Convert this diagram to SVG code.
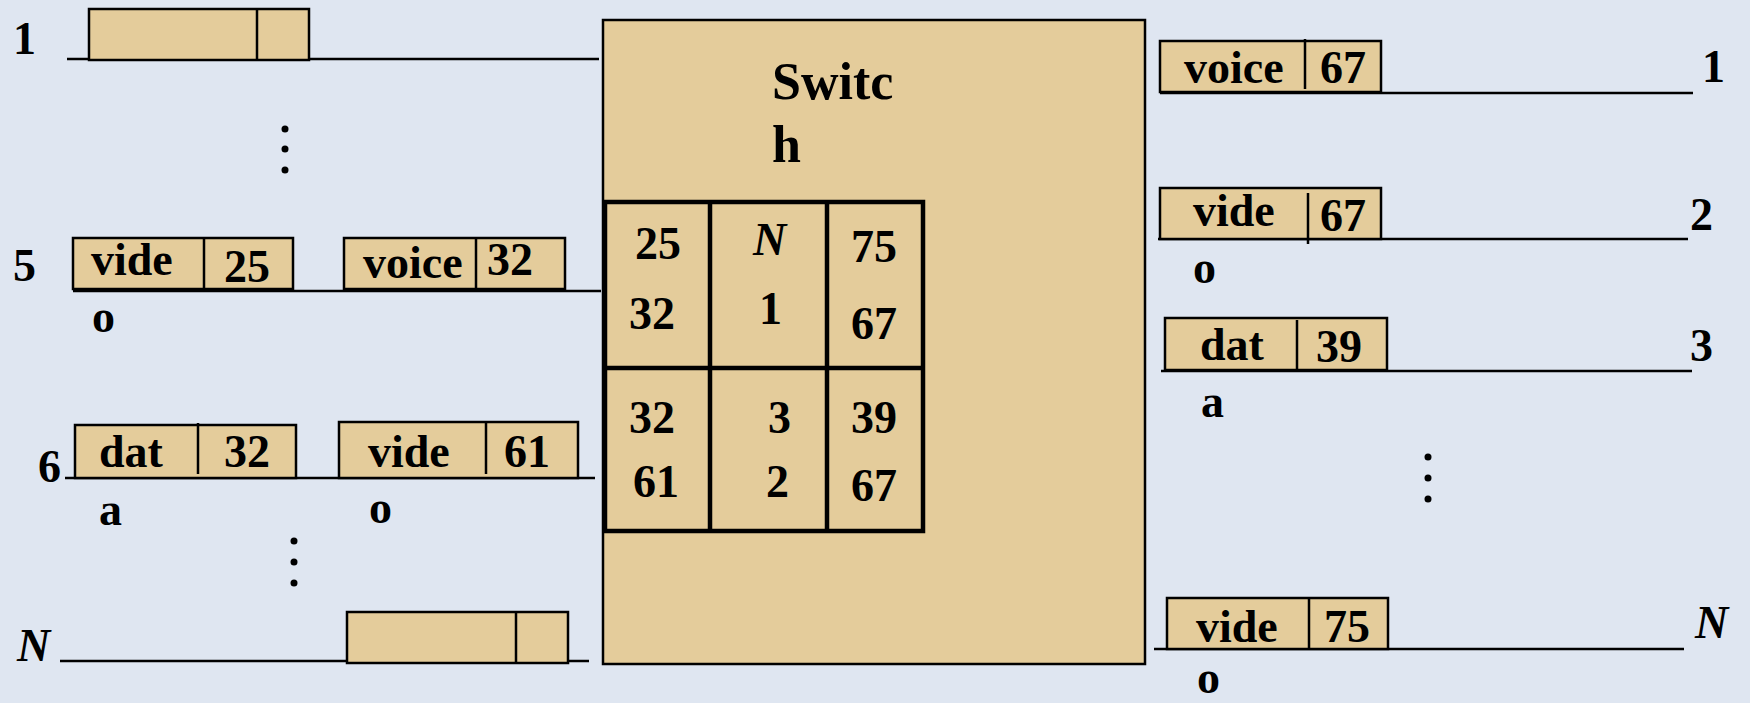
<svg xmlns="http://www.w3.org/2000/svg" width="1750" height="703" viewBox="0 0 1750 703">
<style>
.bg{fill:#dfe6f1}
.pkt{fill:#e4cc9b;stroke:#000;stroke-width:2.5}
.div{stroke:#000;stroke-width:2.5}
.ln{stroke:#000;stroke-width:2.5;fill:none}
.t{font-family:"Liberation Serif","Times New Roman",serif;font-weight:bold;font-size:46px;fill:#000}
.big{font-size:52px}
.it{font-style:italic}
.dot{fill:#000}
.sw{fill:#e4cc9b;stroke:#000;stroke-width:2.5}
.grid{fill:none;stroke:#000;stroke-width:4.5}
</style>
<rect class="bg" x="0" y="0" width="1750" height="703"/>

<g id="connectors">
<line class="ln" x1="67" y1="59" x2="599" y2="59"/>
<line class="ln" x1="73" y1="291" x2="601" y2="291"/>
<line class="ln" x1="65" y1="478" x2="595" y2="478"/>
<line class="ln" x1="60" y1="661" x2="589" y2="661"/>
<line class="ln" x1="1160" y1="93" x2="1693" y2="93"/>
<line class="ln" x1="1158" y1="239" x2="1688" y2="239"/>
<line class="ln" x1="1161" y1="371" x2="1692" y2="371"/>
<line class="ln" x1="1154" y1="649" x2="1684" y2="649"/>
</g>

<g id="switch">
<rect class="sw" x="603" y="20" width="542" height="644"/>
<text class="t big" x="772" y="99">Switc</text>
<text class="t big" x="772" y="162">h</text>
<rect class="grid" x="605" y="202" width="318" height="329"/>
<line class="grid" x1="710" y1="202" x2="710" y2="531"/>
<line class="grid" x1="827" y1="202" x2="827" y2="531"/>
<line class="grid" x1="605" y1="368" x2="923" y2="368"/>
<text class="t" x="635" y="259">25</text>
<text class="t" x="629" y="329">32</text>
<text class="t it" x="753" y="255">N</text>
<text class="t" x="759" y="324">1</text>
<text class="t" x="851" y="262">75</text>
<text class="t" x="851" y="339">67</text>
<text class="t" x="629" y="433">32</text>
<text class="t" x="633" y="497">61</text>
<text class="t" x="768" y="433">3</text>
<text class="t" x="766" y="497">2</text>
<text class="t" x="851" y="433">39</text>
<text class="t" x="851" y="501">67</text>
</g>

<g id="in-labels">
<text class="t" x="13" y="54">1</text>
<text class="t" x="13" y="281">5</text>
<text class="t" x="92" y="332">o</text>
<text class="t" x="38" y="482">6</text>
<text class="t" x="99" y="525">a</text>
<text class="t" x="369" y="523">o</text>
<text class="t it" x="17" y="661">N</text>
</g>

<g id="in-dots">
<circle class="dot" cx="285" cy="129" r="3.5"/>
<circle class="dot" cx="285" cy="149" r="3.5"/>
<circle class="dot" cx="285" cy="170" r="3.5"/>
<circle class="dot" cx="294" cy="541" r="3.5"/>
<circle class="dot" cx="294" cy="562" r="3.5"/>
<circle class="dot" cx="294" cy="583" r="3.5"/>
</g>

<g id="pkt-in1">
<rect class="pkt" x="89" y="9" width="220" height="51"/>
<line class="div" x1="257" y1="9" x2="257" y2="60"/>
</g>
<g id="pkt-in5a">
<rect class="pkt" x="73" y="238" width="220" height="51"/>
<line class="div" x1="204" y1="238" x2="204" y2="289"/>
<text class="t" x="91" y="275">vide</text>
<text class="t" x="224" y="282">25</text>
</g>
<g id="pkt-in5b">
<rect class="pkt" x="344" y="238" width="221" height="51"/>
<line class="div" x1="476" y1="238" x2="476" y2="289"/>
<text class="t" x="363" y="278">voice</text>
<text class="t" x="487" y="275">32</text>
</g>
<g id="pkt-in6a">
<rect class="pkt" x="75" y="425" width="221" height="53"/>
<line class="div" x1="198" y1="423" x2="198" y2="474"/>
<text class="t" x="99" y="467">dat</text>
<text class="t" x="224" y="467">32</text>
</g>
<g id="pkt-in6b">
<rect class="pkt" x="339" y="422" width="239" height="56"/>
<line class="div" x1="486" y1="422" x2="486" y2="474"/>
<text class="t" x="368" y="467">vide</text>
<text class="t" x="504" y="467">61</text>
</g>
<g id="pkt-inN">
<rect class="pkt" x="347" y="612" width="221" height="51"/>
<line class="div" x1="516" y1="612" x2="516" y2="663"/>
</g>

<g id="out-labels">
<text class="t" x="1702" y="82">1</text>
<text class="t" x="1690" y="230">2</text>
<text class="t" x="1193" y="283">o</text>
<text class="t" x="1690" y="361">3</text>
<text class="t" x="1201" y="417">a</text>
<text class="t it" x="1695" y="638">N</text>
<text class="t" x="1197" y="693">o</text>
</g>

<g id="out-dots">
<circle class="dot" cx="1428" cy="457" r="3.5"/>
<circle class="dot" cx="1428" cy="478" r="3.5"/>
<circle class="dot" cx="1428" cy="499" r="3.5"/>
</g>

<g id="pkt-out1">
<rect class="pkt" x="1160" y="41" width="221" height="51"/>
<line class="div" x1="1305" y1="39" x2="1305" y2="89"/>
<text class="t" x="1184" y="83">voice</text>
<text class="t" x="1320" y="83">67</text>
</g>
<g id="pkt-out2">
<rect class="pkt" x="1160" y="188" width="221" height="51"/>
<line class="div" x1="1308" y1="193" x2="1308" y2="244"/>
<text class="t" x="1193" y="226">vide</text>
<text class="t" x="1320" y="231">67</text>
</g>
<g id="pkt-out3">
<rect class="pkt" x="1165" y="318" width="222" height="52"/>
<line class="div" x1="1297" y1="320" x2="1297" y2="372"/>
<text class="t" x="1200" y="360">dat</text>
<text class="t" x="1316" y="362">39</text>
</g>
<g id="pkt-outN">
<rect class="pkt" x="1167" y="598" width="221" height="51"/>
<line class="div" x1="1309" y1="598" x2="1309" y2="649"/>
<text class="t" x="1196" y="642">vide</text>
<text class="t" x="1324" y="642">75</text>
</g>
</svg>
